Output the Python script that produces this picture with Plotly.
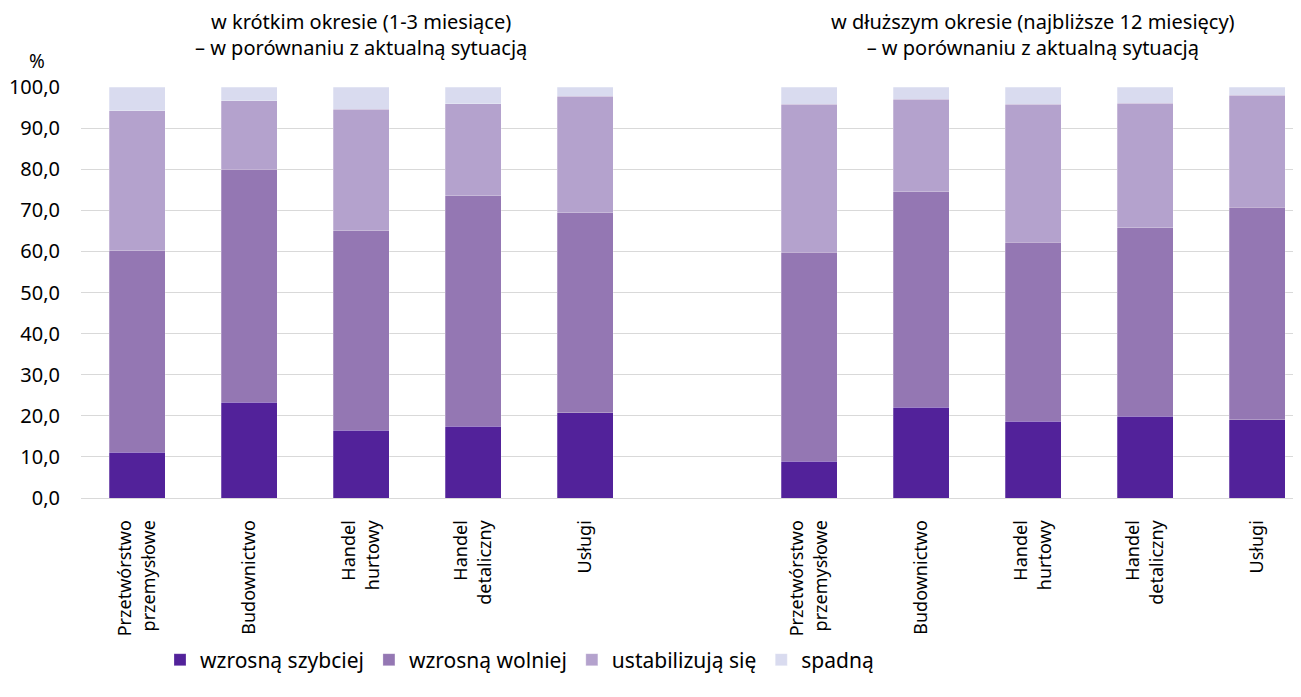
import plotly.graph_objects as go

categories = ["Przetwórstwo<br>przemysłowe", "Budownictwo", "Handel<br>hurtowy",
              "Handel<br>detaliczny", "Usługi"]
group_titles = ["w krótkim okresie (1-3 miesiące)<br>– w porównaniu z aktualną sytuacją",
                "w dłuższym okresie (najbliższe 12 miesięcy)<br>– w porównaniu z aktualną sytuacją"]
series_names = ["wzrosną szybciej", "wzrosną wolniej", "ustabilizują się", "spadną"]
colors = ["#52229a", "#9477b3", "#b4a2cd", "#d9dbef"]

# short term (1-3 months)
short_szybciej = [11.1, 23.3, 16.5, 17.4, 20.8]
short_wolniej = [49.1, 56.7, 48.5, 56.2, 48.6]
short_stab = [34.0, 16.7, 29.6, 22.3, 28.4]
short_spadna = [5.8, 3.3, 5.4, 4.1, 2.2]

# longer term (12 months)
long_szybciej = [9.0, 22.1, 18.7, 19.9, 19.1]
long_wolniej = [50.8, 52.4, 43.5, 45.8, 51.6]
long_stab = [36.0, 22.5, 33.6, 30.4, 27.3]
long_spadna = [4.2, 3.0, 4.2, 3.9, 2.0]

y_ticks = [0, 10, 20, 30, 40, 50, 60, 70, 80, 90, 100]

n = len(categories)
x_short = list(range(n))
x_long = [n + 1 + i for i in range(n)]
x_all = x_short + x_long
tick_text = categories + categories

short_series = [short_szybciej, short_wolniej, short_stab, short_spadna]
long_series = [long_szybciej, long_wolniej, long_stab, long_spadna]

FONT = "Noto Sans"
W, H = 1293, 689
M_L, M_T, M_B = 73, 79, 199
PLOT_H = H - M_T - M_B
PLOT_W = W - M_L


def py(fy):
    return (H - M_B - fy) / PLOT_H


def px(fx):
    return (fx - M_L) / PLOT_W


fig = go.Figure()
for name, col, s, l in zip(series_names, colors, short_series, long_series):
    fig.add_trace(go.Bar(
        x=x_all, y=s + l, name=name,
        marker=dict(color=col, line=dict(color="rgba(255,255,255,0.5)", width=0.5)),
    ))

slot_px = 112
x_max = -0.5 + PLOT_W / slot_px

fig.update_layout(
    barmode="stack",
    bargap=0.5,
    width=W, height=H,
    margin=dict(l=M_L, r=0, t=M_T, b=M_B),
    plot_bgcolor="white", paper_bgcolor="white",
    separators=", ",
    font=dict(family=FONT, size=20, color="#000000"),
    xaxis=dict(
        tickmode="array", tickvals=x_all, ticktext=tick_text,
        tickangle=-90, range=[-0.5, x_max],
        tickfont=dict(family=FONT, size=18, color="#000000"),
        showgrid=False, ticks="outside", ticklen=14, tickcolor="rgba(0,0,0,0)",
        showline=False, zeroline=False, automargin=False,
    ),
    yaxis=dict(
        range=[0, 100], tickvals=y_ticks, tickformat=".1f",
        showgrid=True, gridcolor="#d9d9d9", gridwidth=1,
        zeroline=True, zerolinecolor="#d9d9d9", zerolinewidth=1,
        ticks="outside", ticklen=16, tickcolor="rgba(0,0,0,0)",
        showline=False, automargin=False,
        tickfont=dict(family=FONT, size=20, color="#000000"),
    ),
    legend=dict(
        orientation="h", xref="container", yref="container",
        x=152 / W, y=1 - 652 / H, xanchor="left", yanchor="middle",
        font=dict(family=FONT, size=21, color="#000000"),
        traceorder="normal", itemwidth=30,
    ),
    showlegend=True,
)

fig.add_annotation(text=group_titles[0], x=(x_short[0] + x_short[-1]) / 2,
                   y=py(26.5), xref="x", yref="paper", yanchor="middle",
                   showarrow=False, font=dict(family=FONT, size=20, color="#000000"))
fig.add_annotation(text=group_titles[1], x=(x_long[0] + x_long[-1]) / 2,
                   y=py(26.0), xref="x", yref="paper", yanchor="middle",
                   showarrow=False, font=dict(family=FONT, size=20, color="#000000"))
fig.add_annotation(text="%", x=px(29), y=py(53), xref="paper", yref="paper",
                   xanchor="center", yanchor="middle",
                   showarrow=False, font=dict(family=FONT, size=19, color="#000000"))

fig.write_html("out.html")
